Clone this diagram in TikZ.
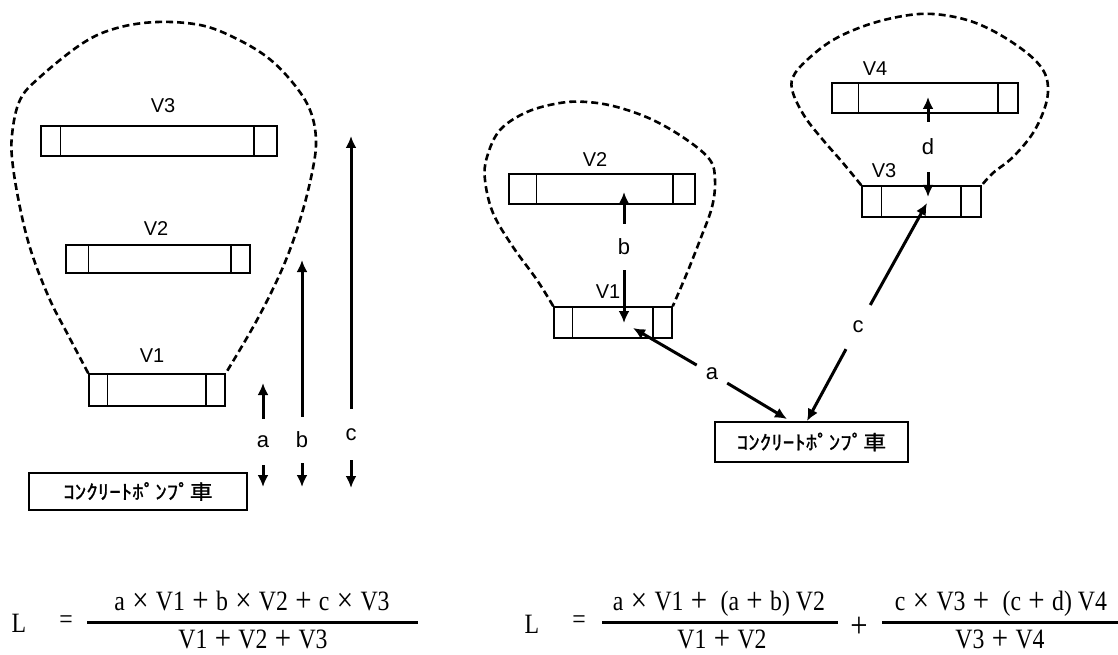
\documentclass[tikz,border=0pt]{standalone}
\usepackage{fontspec}
\setmainfont{Liberation Sans}
\newfontfamily\jpfont{Noto Sans CJK JP}[FakeStretch=1.15, FakeBold=1]
\newfontfamily\minfont{Liberation Serif}[FakeStretch=0.85]
\usetikzlibrary{arrows.meta}
\newcommand{\zen}[1]{\makebox[31pt]{\raisebox{-1.5pt}{\fontsize{34}{36}\selectfont#1}}}

\tikzset{
  tanque/.style={draw, line width=1.5pt, inner sep=0pt},
  bomba/.style={draw, line width=1.7pt, inner sep=0pt, font=\jpfont\fontsize{20}{24}\selectfont},
  zona/.style={line width=2.6pt, dash pattern=on 7pt off 4pt},
  flecha/.style={line width=3pt, -{Latex[length=12pt,width=11pt]}},
  etq/.style={font=\fontsize{20}{24}\selectfont},
  tramo/.style={circle, inner sep=0pt, minimum size=#1, font=\fontsize{22}{26}\selectfont},
  formula/.style={anchor=base, inner sep=0pt, font=\minfont\fontsize{28}{32}\selectfont},
  raya/.style={line width=3pt}
}

\begin{document}
\begin{tikzpicture}[x=1pt,y=-1pt]
  \useasboundingbox (0,0) rectangle (1118,655);

  % Depositos: nombre/x/y/ancho/alto/izq/der
  \foreach \n/\x/\y/\w/\h/\l/\r in {iV3/159/141/236/30/20/24, iV2/158/259/184/28/23/20,
      iV1/157/390/136/32/19/20, dV2/602/189/186/30/28/23, dV1/613/322.5/118/31/19/20,
      dV4/925/98/186/30/27/21, dV3/921.5/201.5/119/31/20/21} {
    \node[tanque, minimum width=\w, minimum height=\h] (\n) at (\x,\y) {};
    \draw[line width=1.5pt] ([xshift=\l]\n.north west) -- ([xshift=\l]\n.south west);
    \draw[line width=1.5pt] ([xshift=-\r]\n.north east) -- ([xshift=-\r]\n.south east);
  }

  % Nombres de los depositos
  \node[etq] (tiV3) at (163,106) {V3};
  \node[etq] (tiV2) at (156,229) {V2};
  \node[etq] (tiV1) at (152,356) {V1};
  \node[etq] (tdV2) at (595,160) {V2};
  \node[etq] (tdV1) at (608,292) {V1};
  \node[etq] (tdV4) at (875,69) {V4};
  \node[etq] (tdV3) at (884,171) {V3};

  % Camiones bomba
  \node[bomba, minimum width=218, minimum height=37] (iB) at (138,491.5) {ｺﾝｸﾘｰﾄﾎﾟﾝﾌﾟ車\hspace{20pt}};
  \node[bomba, minimum width=193, minimum height=40] (dB) at (811.5,442) {ｺﾝｸﾘｰﾄﾎﾟﾝﾌﾟ車\hspace{15pt}};

  % Zonas (linea discontinua)
  \draw[zona] plot[smooth, tension=0.6] coordinates {(iV1.north west) (67,333) (50,300)
    (33,257) (22,217) (13,167) (12,135) (20,100) (40,77) (83,43) (117,28) (157,22) (200,25)
    (233,37) (267,57) (293,83) (310,110) (316,140) (312,173) (300,220) (283,267) (257,320)
    (iV1.north east)};
  \draw[zona] plot[smooth, tension=0.6] coordinates {(dV1.north west) (537,280) (513,247)
    (493,213) (485,180) (487,157) (500,130) (527,112) (560,103) (587,102) (617,107)
    (653,120) (687,140) (710,160) (715,180) (712,207) (700,240) (687,273) (dV1.north east)};
  \draw[zona] plot[smooth, tension=0.6] coordinates {(dV3.north west) (843,163) (823,140)
    (805,117) (793,93) (793,77) (807,60) (833,40) (867,25) (903,16) (933,14) (967,20)
    (997,33) (1027,53) (1043,70) (1048,87) (1045,107) (1033,133) (1013,157) (993,173)
    (dV3.north east)};

  % Distancias (izquierda)
  \coordinate (aT) at (263,383);  \coordinate (aB) at (263,487);
  \coordinate (bT) at (302,260);  \coordinate (bB) at (302,487);
  \coordinate (cT) at (351,136);  \coordinate (cB) at (351,488);
  \node[tramo=46pt] (la) at (263,442) {a};
  \node[tramo=46pt] (lb) at (302,440) {b};
  \node[tramo=51pt] (lc) at (351,434.5) {c};
  \foreach \s in {a,b,c} {
    \draw[flecha] (l\s) -- (\s T);
    \draw[flecha] (l\s) -- (\s B);
  }

  % Distancias (derecha)
  \coordinate (bT2) at (624,192);  \coordinate (bB2) at (624,323);
  \coordinate (dT2) at (928,97);   \coordinate (dB2) at (928,197);
  \coordinate (aT2) at (633,328);  \coordinate (aB2) at (787,419);
  \coordinate (cT2) at (927,203);  \coordinate (cB2) at (807,421);
  \node[tramo=46pt] (lb2) at (624,247) {b};
  \node[tramo=50pt] (ld2) at (928,147) {d};
  \node[tramo=35pt] (la2) at (712,374) {a};
  \node[tramo=50pt] (lc2) at (858,327) {c};
  \foreach \s in {a,b,c,d} {
    \draw[flecha] (l\s2) -- (\s T2);
    \draw[flecha] (l\s2) -- (\s B2);
  }

  % Formulas
  \node[formula] (Li) at (19,632) {L};
  \node[formula, anchor=center] (eqi) at (66,622) {=};
  \node[formula] (numi) at (252,610) {a\zen{×}V1\zen{+}b\zen{×}V2\zen{+}c\zen{×}V3};
  \draw[raya] (87,622) -- (418,622);
  \node[formula] (deni) at (253,648) {V1\zen{+}V2\zen{+}V3};

  \node[formula] (Ld) at (532,633) {L};
  \node[formula, anchor=center] (eqd) at (579,622) {=};
  \node[formula] (numd1) at (719,610) {a\zen{×}V1\zen{+}\hspace{6pt}(a\zen{+}b)\hspace{6pt}V2};
  \draw[raya] (602,622) -- (838,622);
  \node[formula] (dend1) at (722,648) {V1\zen{+}V2};
  \node[formula, anchor=center, font=\minfont\fontsize{36}{40}\selectfont] (masd) at (859,627) {+};
  \node[formula] (numd2) at (1001,610) {c\zen{×}V3\zen{+}\hspace{6pt}(c\zen{+}d)\hspace{6pt}V4};
  \draw[raya] (882,622) -- (1118,622);
  \node[formula] (dend2) at (1000,648) {V3\zen{+}V4};
\end{tikzpicture}
\end{document}
